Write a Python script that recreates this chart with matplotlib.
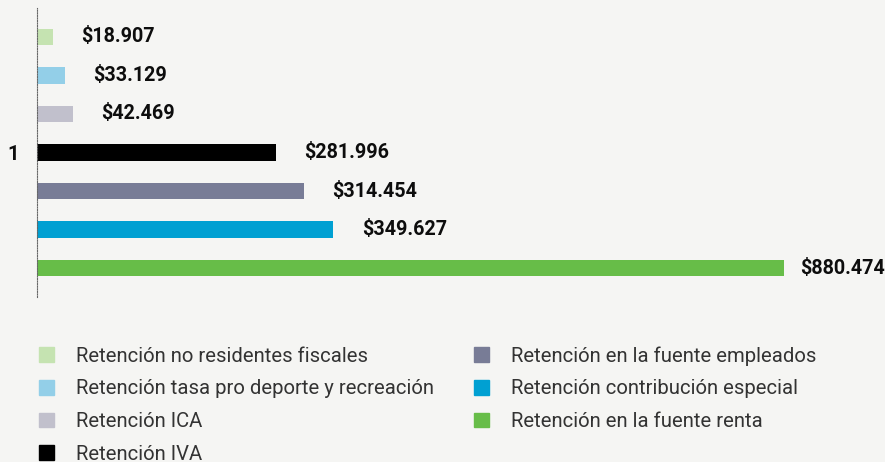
import numpy as np
import matplotlib.pyplot as plt

# retenciones, en millones
categorias = [
    "Retención no residentes fiscales",
    "Retención tasa pro deporte y recreación",
    "Retención ICA",
    "Retención IVA",
    "Retención en la fuente empleados",
    "Retención contribución especial",
    "Retención en la fuente renta",
]
valores = [18.907, 33.129, 42.469, 281.996, 314.454, 349.627, 880.474]
etiquetas = ["$18.907", "$33.129", "$42.469", "$281.996", "$314.454", "$349.627", "$880.474"]
colores = ["#c5e3b1", "#93cfe8", "#c1c0cc", "#000000", "#787c96", "#00a0d2", "#67bd48"]
grupo = "1"

FONDO = "#f5f5f3"
plt.rcParams['font.family'] = ['Roboto', 'DejaVu Sans']

fig = plt.figure(figsize=(8.85, 4.62), dpi=100, facecolor=FONDO)
ax = fig.add_axes([37 / 885, 1 - 297 / 462, 848 / 885, 289 / 462])
ax.set_facecolor(FONDO)

XMAX = 1000
pos = np.arange(len(valores))
barras = ax.barh(pos, valores, height=0.42, color=colores)
for b, txt in zip(barras, etiquetas):
    # la etiqueta de la barra mas larga se acerca para no salirse
    dx = 12 if b.get_width() > 0.85 * XMAX else 20.5
    ax.annotate(txt, (b.get_width(), b.get_y() + b.get_height() / 2),
                xytext=(dx, 0), textcoords='offset points', annotation_clip=False,
                ha='left', va='center', fontsize=14.2, fontweight='bold', color='#0d0d0d')

ax.set_xlim(0, XMAX)
ax.set_ylim(len(valores) - 0.25, -0.75)
ax.set_xticks([])
ax.set_yticks([pos[len(pos) // 2]])
ax.set_yticklabels([grupo], fontsize=14.5, fontweight='bold', color='#0d0d0d')
ax.tick_params(axis='y', length=0, pad=13)

for s in ['top', 'right', 'bottom']:
    ax.spines[s].set_visible(False)
ax.spines['left'].set_linestyle((0, (1, 1.3)))
ax.spines['left'].set_color('#666666')
ax.spines['left'].set_linewidth(0.8)

handles = [plt.Rectangle((0, 0), 1, 1, color=c) for c in colores]
leg = fig.legend(handles, categorias, loc='upper left', bbox_to_anchor=(39 / 885, 1 - 346 / 462),
                 ncol=2, frameon=False, prop={'size': 14.6},
                 handlelength=0.75, handleheight=0.75,
                 handletextpad=1.08, columnspacing=1.95, labelspacing=0.68, borderpad=0,
                 borderaxespad=0)
for t in leg.get_texts():
    t.set_color('#333333')

fig.savefig("out.png", dpi=100, facecolor=FONDO)
